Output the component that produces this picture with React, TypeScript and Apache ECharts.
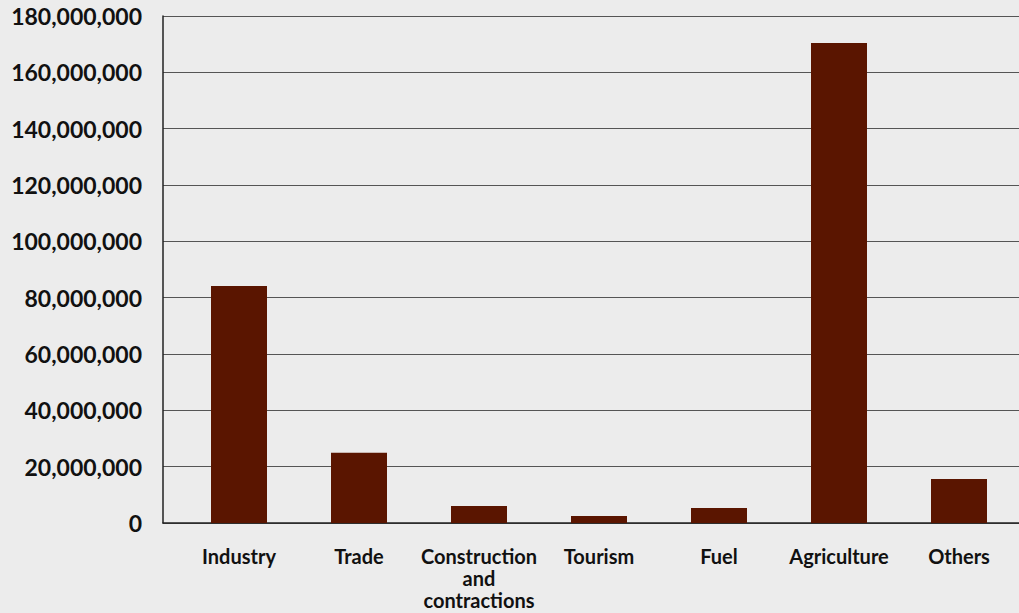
import React, { useEffect, useRef } from "react";
import * as echarts from "echarts";

const categories = ["Industry", "Trade", "Construction\nand\ncontractions", "Tourism", "Fuel", "Agriculture", "Others"];
const values = [84100000, 24900000, 6000000, 2500000, 5300000, 170400000, 15600000];
const yMin = 0;
const yMax = 180000000;
const yInterval = 20000000;

const FONT = "Lato, 'Open Sans', sans-serif";

export default function App() {
  const ref = useRef<HTMLDivElement>(null);
  useEffect(() => {
    const chart = echarts.init(ref.current!, null, { renderer: "svg" });
    chart.setOption({
      animation: false,
      backgroundColor: "#ececec",
      grid: [
        { left: 163, right: 0, top: 16, height: 507 },
        { left: 179, right: 0, top: 16, height: 507 },
      ],
      xAxis: [
        {
          gridIndex: 0,
          type: "value",
          min: 0,
          max: 1,
          axisLine: { show: true, onZero: false, lineStyle: { color: "#222", width: 1.5 } },
          axisTick: { show: false },
          axisLabel: { show: false },
          splitLine: { show: false },
        },
        {
          gridIndex: 1,
          type: "category",
          data: categories,
          axisLine: { show: false },
          axisTick: { show: false },
          axisLabel: {
            color: "#111",
            fontFamily: FONT,
            fontWeight: "bold",
            fontSize: 20,
            lineHeight: 22,
            margin: 22,
            interval: 0,
            verticalAlign: "top",
          },
        },
      ],
      yAxis: [
        {
          gridIndex: 0,
          type: "value",
          min: yMin,
          max: yMax,
          interval: yInterval,
          axisLine: { show: true, lineStyle: { color: "#222", width: 1.5 } },
          axisTick: { show: false },
          splitLine: { show: true, lineStyle: { color: "#555", width: 1 } },
          axisLabel: {
            color: "#111",
            fontFamily: FONT,
            fontWeight: "bold",
            fontSize: 23,
            margin: 21,
            formatter: (v: number) => v.toLocaleString("en-US"),
          },
        },
        {
          gridIndex: 1,
          type: "value",
          min: yMin,
          max: yMax,
          interval: yInterval,
          show: false,
          splitLine: { show: false },
        },
      ],
      series: [
        {
          type: "bar",
          xAxisIndex: 1,
          yAxisIndex: 1,
          data: values,
          barWidth: 56,
          itemStyle: { color: "#5a1500" },
        },
      ],
    });
    return () => chart.dispose();
  }, []);
  return <div ref={ref} style={{ position: "absolute", left: 0, top: 0, width: 1019, height: 613 }} />;
}
